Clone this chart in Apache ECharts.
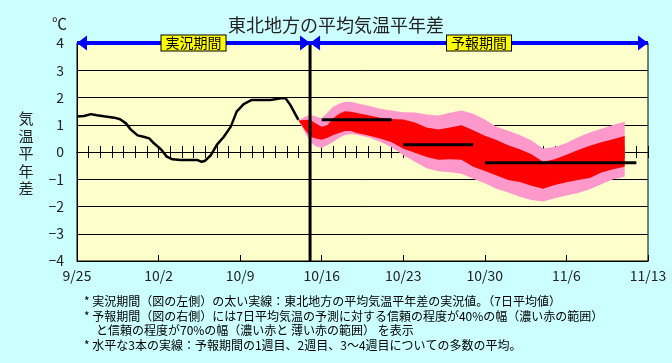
<!DOCTYPE html>
<html><head><meta charset="utf-8">
<script src="https://cdn.jsdelivr.net/npm/echarts@6/dist/echarts.min.js"></script>
<style>html,body{margin:0;padding:0;background:#CCFFFF}#c{width:672px;height:363px}</style>
</head><body><div id="c"></div>
<script>
// x axis: days since 9/25
const tickLabels = ['9/25','10/2','10/9','10/16','10/23','10/30','11/6','11/13'];
const totalDays = 49;
const forecastStart = 20;

// observed 7-day mean anomaly (day, value)
const obsDay = [0, 0.6, 1.2, 1.7, 2.3, 3.2, 3.7, 4.2, 4.6, 5.2, 5.7, 6.2, 6.6, 7.2, 7.7, 8.2, 8.9, 10.3, 10.7, 11.0, 11.5, 12.0, 12.6, 13.2, 13.7, 14.3, 15.0, 16.6, 17.5, 17.9, 18.3, 19.0];
const obsVal = [1.30, 1.32, 1.39, 1.35, 1.31, 1.26, 1.20, 1.05, 0.83, 0.61, 0.56, 0.50, 0.32, 0.10, -0.17, -0.27, -0.29, -0.29, -0.36, -0.32, -0.11, 0.26, 0.56, 0.93, 1.48, 1.76, 1.91, 1.91, 1.97, 1.97, 1.73, 1.18];

// forecast bands
const bandDay = [19, 19.5, 20, 20.5, 21, 21.5, 22, 22.5, 23, 23.5, 24, 25, 26, 27, 28, 29, 30, 31, 32, 33, 34, 35, 36, 37, 38, 39, 40, 41, 42, 43, 44, 45, 46, 47];
const p70hi = [1.16, 1.28, 1.38, 1.30, 1.24, 1.45, 1.67, 1.77, 1.84, 1.84, 1.79, 1.70, 1.59, 1.52, 1.46, 1.45, 1.38, 1.34, 1.44, 1.52, 1.40, 1.19, 0.93, 0.78, 0.62, 0.42, 0.13, 0.18, 0.33, 0.54, 0.72, 0.85, 0.99, 1.11];
const p40hi = [1.16, 1.17, 1.18, 1.05, 0.93, 0.99, 1.25, 1.40, 1.50, 1.48, 1.43, 1.35, 1.26, 1.21, 1.19, 1.08, 0.90, 0.83, 0.90, 0.98, 0.80, 0.60, 0.44, 0.25, 0.10, -0.08, -0.36, -0.27, -0.10, 0.07, 0.23, 0.36, 0.47, 0.59];
const p40lo = [1.16, 0.85, 0.56, 0.50, 0.45, 0.52, 0.62, 0.70, 0.77, 0.77, 0.70, 0.61, 0.50, 0.36, 0.12, -0.03, -0.18, -0.28, -0.27, -0.28, -0.54, -0.70, -0.86, -1.03, -1.10, -1.24, -1.35, -1.21, -1.11, -1.03, -0.95, -0.75, -0.63, -0.54];
const p70lo = [1.16, 0.76, 0.38, 0.20, 0.16, 0.25, 0.38, 0.52, 0.62, 0.66, 0.63, 0.54, 0.38, 0.17, -0.12, -0.36, -0.60, -0.71, -0.74, -0.80, -0.98, -1.15, -1.35, -1.49, -1.64, -1.76, -1.82, -1.70, -1.60, -1.50, -1.37, -1.18, -1.00, -0.91];

// ensemble means: week1, week2, weeks 3-4
const meanStart = [21, 28, 35];
const meanEnd = [27, 34, 48];
const meanVal = [1.18, 0.27, -0.39];

const periodNames = ['実況期間', '予報期間'];
const arrowDay = [0, forecastStart, forecastStart, totalDays];
const arrowDir = [-1, 1, -1, 1];
const notes = [
  '* 実況期間（図の左側）の太い実線：東北地方の平均気温平年差の実況値。（7日平均値）',
  '* 予報期間（図の右側）には7日平均気温の予測に対する信頼の程度が40%の幅（濃い赤の範囲）',
  '　と信頼の程度が70%の幅（濃い赤と 薄い赤の範囲） を表示',
  '* 水平な3本の実線：予報期間の1週目、2週目、3～4週目についての多数の平均。'
];

const FF = '"Noto Sans CJK JP", "Noto Sans", sans-serif';
const chart = echarts.init(document.getElementById('c'));

const zeroAxis = pos => ({
  type: 'value', min: 0, max: totalDays, interval: 1, position: pos,
  axisLine: { show: true, onZero: true, onZeroAxisIndex: 0, lineStyle: { color: '#000', width: 1 } },
  axisTick: { show: true, inside: true, length: 6, lineStyle: { color: '#000', width: 1 } },
  axisLabel: { show: false }, splitLine: { show: false }
});

const meanSeries = meanVal.map((v, i) => ({
  type: 'line', xAxisIndex: 0, yAxisIndex: 0, z: 5,
  data: [[meanStart[i], v], [meanEnd[i], v]],
  symbol: 'none', lineStyle: { color: '#000', width: 3 }, silent: true
}));

chart.setOption({
  animation: false,
  backgroundColor: '#CCFFFF',
  title: {
    text: '東北地方の平均気温平年差', left: 'center', top: 11,
    textStyle: { fontSize: 18, fontWeight: 'normal', color: '#222', fontFamily: FF }
  },
  grid: { left: 77, right: 24, top: 43, bottom: 102, show: true, backgroundColor: '#FFFFCC', borderColor: '#000', borderWidth: 1 },
  xAxis: [
    {
      type: 'value', min: 0, max: totalDays, interval: 7, position: 'bottom',
      axisLine: { onZero: false, lineStyle: { color: '#000', width: 1 } },
      axisTick: { inside: true, length: 6, lineStyle: { color: '#000' } },
      axisLabel: { formatter: v => tickLabels[Math.round(v / 7)], margin: 8, fontSize: 14, color: '#222', fontFamily: FF },
      splitLine: { show: false }
    },
    zeroAxis('bottom'),
    zeroAxis('top')
  ],
  yAxis: {
    type: 'value', min: -4, max: 4, interval: 1,
    axisLine: { show: true, onZero: false, lineStyle: { color: '#000' } },
    axisTick: { show: false },
    splitLine: { lineStyle: { color: '#000', width: 1 } },
    axisLabel: { margin: 13, fontSize: 14, color: '#222', fontFamily: FF, formatter: v => String(v).replace('-', '−') }
  },
  graphic: [
    { type: 'text', left: 52, top: 16, style: { text: '℃', font: '15px ' + FF, fill: '#222' } },
    { type: 'text', x: 26, y: 110, style: { text: '気\n温\n平\n年\n差', font: '15px ' + FF, fill: '#222', textAlign: 'center', lineHeight: 17.5 } }
  ].concat(notes.map((t, i) => ({
    type: 'text', x: 84, y: [301, 316, 330, 345][i],
    style: { text: t, font: '12px ' + FF, fill: '#000', textVerticalAlign: 'middle' }
  }))),
  series: [
    {
      type: 'custom', xAxisIndex: 0, yAxisIndex: 0, z: 3, silent: true, clip: true,
      data: bandDay.map((d, i) => [d, p70hi[i]]),
      encode: { x: 0, y: 1 },
      renderItem: function (params, api) {
        if (params.dataIndex !== 0) return null;
        const poly = (hi, lo, color) => {
          const pts = [];
          for (let i = 0; i < bandDay.length; i++) pts.push(api.coord([bandDay[i], hi[i]]));
          for (let i = bandDay.length - 1; i >= 0; i--) pts.push(api.coord([bandDay[i], lo[i]]));
          return { type: 'polygon', shape: { points: pts }, style: { fill: color } };
        };
        return { type: 'group', children: [poly(p70hi, p70lo, '#FF99CC'), poly(p40hi, p40lo, '#FF0000')] };
      }
    },
    {
      type: 'line', xAxisIndex: 0, yAxisIndex: 0, z: 4, silent: true,
      data: obsDay.map((d, i) => [d, obsVal[i]]),
      symbol: 'none', lineStyle: { color: '#000', width: 2.5 }
    }
  ].concat(meanSeries).concat([
    {
      type: 'line', xAxisIndex: 0, yAxisIndex: 0, z: 6, silent: true,
      data: [[forecastStart, -4], [forecastStart, 4]],
      symbol: 'none', lineStyle: { color: '#000', width: 3 },
      markLine: {
        silent: true, animation: false, z: 7,
        symbol: ['none', 'none'],
        lineStyle: { color: '#0000FF', width: 4, type: 'solid' },
        label: {
          show: true, position: 'insideMiddle', formatter: p => p.name,
          backgroundColor: '#FFFF00', borderColor: '#000', borderWidth: 1, padding: [1, 4, 0, 4],
          color: '#000', fontSize: 14, fontFamily: FF, distance: 0
        },
        data: [
          [{ name: periodNames[0], coord: [0, 4] }, { coord: [forecastStart, 4] }],
          [{ name: periodNames[1], coord: [forecastStart, 4] }, { coord: [totalDays, 4] }]
        ]
      }
    },
    {
      type: 'custom', xAxisIndex: 0, yAxisIndex: 0, z: 8, silent: true, clip: false,
      data: arrowDay.map((d, i) => [d, 4, arrowDir[i]]),
      encode: { x: 0, y: 1 },
      renderItem: function (params, api) {
        const p = api.coord([api.value(0), api.value(1)]);
        const dir = api.value(2);
        return {
          type: 'polygon',
          shape: { points: [[p[0], p[1]], [p[0] - dir * 10, p[1] - 7.5], [p[0] - dir * 10, p[1] + 7.5]] },
          style: { fill: '#0000FF' }
        };
      }
    }
  ])
});
</script>
</body></html>
